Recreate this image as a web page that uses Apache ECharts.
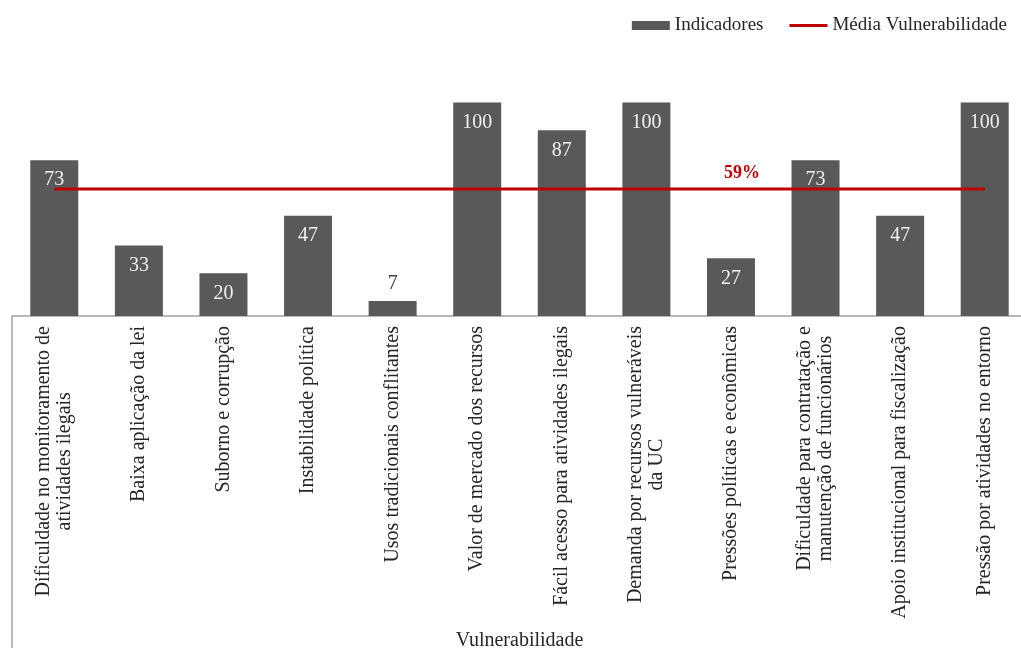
<!DOCTYPE html>
<html>
<head>
<meta charset="utf-8">
<script src="https://cdn.jsdelivr.net/npm/echarts@6/dist/echarts.min.js"></script>
<style>
  html, body { margin: 0; padding: 0; background: #fff; }
  #chart { width: 1021px; height: 648px; }
</style>
</head>
<body>
<div id="chart"></div>
<script>
const categories = [
  'Dificuldade no monitoramento de\natividades ilegais',
  'Baixa aplicação da lei',
  'Suborno e corrupção',
  'Instabilidade política',
  'Usos tradicionais conflitantes',
  'Valor de mercado dos recursos',
  'Fácil acesso para atividades ilegais',
  'Demanda por recursos vulneráveis\nda UC',
  'Pressões políticas e econômicas',
  'Dificuldade para contratação e\nmanutenção de funcionários',
  'Apoio institucional para fiscalização',
  'Pressão por atividades no entorno'
];
const indicadores = [73, 33, 20, 47, 7, 100, 87, 100, 27, 73, 47, 100];
const mediaVulnerabilidade = [59.5, 59.5, 59.5, 59.5, 59.5, 59.5, 59.5, 59.5, 59.5, 59.5, 59.5, 59.5];
const mediaLabelText = '59%';
const mediaLabelIndex = 8;
const axisName = 'Vulnerabilidade';

const FONT = "'Liberation Serif', 'Times New Roman', serif";
const LABEL_SIZE = 20;

// measure lines so that multi-line category labels can be centred line by line
const mctx = document.createElement('canvas').getContext('2d');
mctx.font = LABEL_SIZE + "px 'Liberation Serif'";
const labelRich = { c: { fontFamily: FONT, fontSize: LABEL_SIZE, color: '#262626', lineHeight: 21 } };
categories.forEach((cat, idx) => {
  const lines = cat.split('\n');
  if (lines.length > 1) {
    const ws = lines.map(s => mctx.measureText(s).width);
    const maxW = Math.max(...ws);
    const minW = Math.min(...ws);
    labelRich['p' + idx] = { width: (maxW - minW) / 2, fontFamily: FONT, fontSize: LABEL_SIZE, lineHeight: 21 };
  }
});
function labelFormatter(value, idx) {
  const lines = value.split('\n');
  if (lines.length === 1) return '{c|' + value + '}';
  const ws = lines.map(s => mctx.measureText(s).width);
  const maxW = Math.max(...ws);
  return lines.map((s, i) => '{c|' + s + '}' + (ws[i] < maxW - 0.5 ? '{p' + idx + '| }' : '')).join('\n');
}

const chart = echarts.init(document.getElementById('chart'));

const barData = indicadores.map(v => v < 15
  ? { value: v, label: { position: 'top', color: '#404040', distance: 7 } }
  : v);

const lineData = mediaVulnerabilidade.map((v, i) => i === mediaLabelIndex
  ? { value: v, label: { show: true, position: 'top', formatter: mediaLabelText, color: '#c00000',
      fontWeight: 'bold', fontSize: 18, fontFamily: FONT, offset: [11, 0], distance: 6 } }
  : v);

chart.setOption({
  animation: false,
  backgroundColor: '#ffffff',
  textStyle: { fontFamily: FONT },
  legend: {
    right: 9,
    top: 11,
    itemWidth: 38,
    itemHeight: 9,
    itemGap: 26,
    textStyle: { fontFamily: FONT, fontSize: 19, color: '#262626' },
    data: [
      { name: 'Indicadores', icon: 'rect' },
      { name: 'Média Vulnerabilidade', icon: 'path://M0,0 L40,0 L40,3 L0,3 Z' }
    ]
  },
  grid: { left: 12, top: 102.5, width: 1015, height: 213.5, containLabel: false, outerBoundsMode: 'none' },
  xAxis: {
    type: 'category',
    data: categories,
    name: axisName,
    nameLocation: 'middle',
    nameGap: 315,
    nameTextStyle: { fontFamily: FONT, fontSize: 20, color: '#262626' },
    axisLine: { lineStyle: { color: '#a0a0a0', width: 1.5 } },
    axisTick: { show: false },
    axisLabel: {
      interval: 0,
      rotate: 90,
      margin: 10,
      fontFamily: FONT,
      fontSize: LABEL_SIZE,
      color: '#262626',
      hideOverlap: false,
      formatter: labelFormatter,
      rich: labelRich
    }
  },
  yAxis: { type: 'value', min: 0, max: 100, show: false, splitLine: { show: false } },
  graphic: [{
    type: 'line',
    shape: { x1: 12, y1: 316, x2: 12, y2: 648 },
    style: { stroke: '#a0a0a0', lineWidth: 1.5 },
    silent: true
  }],
  series: [
    {
      name: 'Indicadores',
      type: 'bar',
      data: barData,
      barWidth: 48,
      itemStyle: { color: '#595959' },
      label: {
        show: true,
        position: 'insideTop',
        distance: 10,
        color: '#f0f0f0',
        fontFamily: FONT,
        fontSize: 20
      }
    },
    {
      name: 'Média Vulnerabilidade',
      type: 'line',
      data: lineData,
      symbol: 'circle',
      symbolSize: 1,
      showSymbol: true,
      z: 5,
      lineStyle: { color: '#c00000', width: 3 },
      itemStyle: { color: '#c00000' }
    }
  ]
});
</script>
</body>
</html>
